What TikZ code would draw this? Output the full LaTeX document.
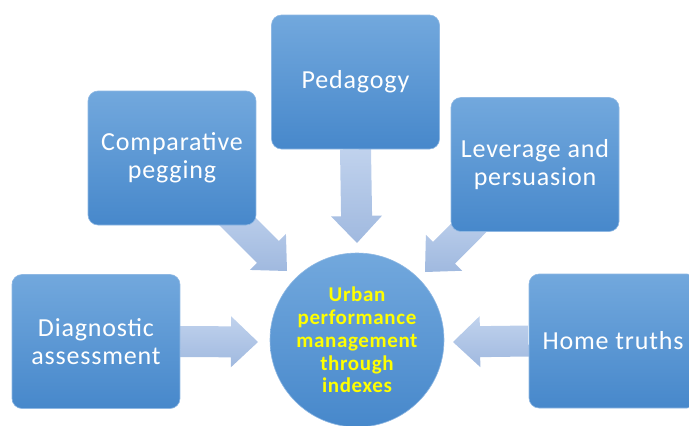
\documentclass[tikz,border=0pt]{standalone}
\usepackage{fontspec}
\setmainfont{Carlito}
\newfontfamily\boxfont{Carlito}[LetterSpace=3.2]
\newfontfamily\hubfont{Carlito}[LetterSpace=3]
\usetikzlibrary{calc,backgrounds}
\definecolor{boxtop}{HTML}{72A8DD}
\definecolor{boxbot}{HTML}{4788CB}
\definecolor{boxedge}{HTML}{8FB8E3}
\definecolor{arrtop}{HTML}{C0D2ED}
\definecolor{arrbot}{HTML}{A0B9DF}
\definecolor{circtext}{HTML}{FFFF00}
\tikzset{
  x=1pt, y=-1pt,
  topicbox/.style={rectangle, rounded corners=10pt, minimum width=168pt, minimum height=134pt,
    top color=boxtop, bottom color=boxbot, draw=boxedge, line width=0.6pt,
    text=white, align=center, font=\boxfont\fontsize{26}{28}\selectfont, inner sep=0pt},
  hubcircle/.style={circle, minimum size=174pt, inner sep=0pt,
    top color=boxtop, bottom color=boxbot, draw=boxedge, line width=0.6pt,
    text=circtext, align=center, font=\hubfont\bfseries\fontsize{21}{22.8}\selectfont},
  blockarrow/.style={top color=arrtop, bottom color=arrbot, draw=none}
}
\newcommand{\fatarrow}[2]{%
  \coordinate (hb) at ($(#2)!27pt!(#1)$);
  \path[blockarrow] ($(#1)!15.5pt!90:(#2)$) -- ($(hb)!15.5pt!90:(#2)$) -- ($(hb)!25.5pt!90:(#2)$)
    -- (#2) -- ($(hb)!25.5pt!-90:(#2)$) -- ($(hb)!15.5pt!-90:(#2)$) -- ($(#1)!15.5pt!-90:(#2)$) -- cycle;}
\begin{document}
\begin{tikzpicture}
\useasboundingbox (0,0) rectangle (689,426);
\clip (0,0) rectangle (689,426);
\node[topicbox] (diag) at (96,341.5) {Diagnostic\\assessment};
\node[topicbox] (comp) at (172,158) {Comparative\\pegging};
\node[topicbox] (ped) at (355.5,82) {Pedagogy};
\node[topicbox] (lev) at (535,164.5) {Leverage and\\persuasion};
\node[topicbox] (home) at (613,341) {Home truths};
\node[hubcircle] (hub) at (357,340) {Urban\\performance\\management\\through\\indexes};
\coordinate (tdiag) at (258,342);
\coordinate (thome) at (453,342);
\coordinate (tped) at (357,243);
\coordinate (tcomp) at (287,271);
\coordinate (tlev) at (425,272);
\coordinate (scomp) at ($(comp.south east)+(-28,-13)$);
\coordinate (slev) at ($(lev.south west)+(28,-14)$);
\begin{scope}[on background layer]
\fatarrow{diag.east}{tdiag}
\fatarrow{home.west}{thome}
\fatarrow{ped.south}{tped}
\fatarrow{scomp}{tcomp}
\fatarrow{slev}{tlev}
\end{scope}
\end{tikzpicture}
\end{document}
